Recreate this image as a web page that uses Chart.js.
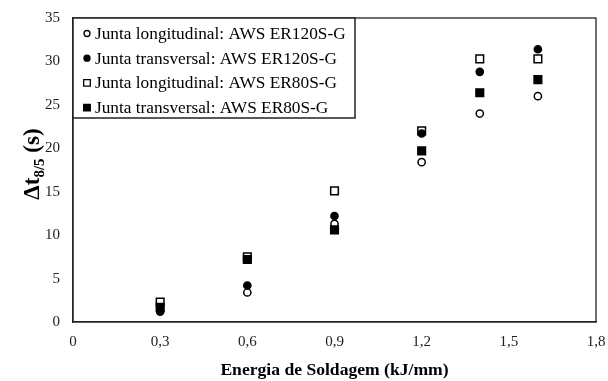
<!DOCTYPE html>
<html>
<head>
<meta charset="utf-8">
<script src="https://cdn.jsdelivr.net/npm/chart.js@4"></script>
<style>
  html, body { margin: 0; padding: 0; background: #fff; }
  #wrap { width: 608px; height: 381px; }
</style>
</head>
<body>
<div id="wrap"><canvas id="grafico"></canvas></div>
<script>
// energia de soldagem (kJ/mm)
const energia = [0.3, 0.6, 0.9, 1.2, 1.4, 1.6]

// delta t 8/5 (s) por junta / consumivel
const longER120 = [1.2, 3.4, 11.3, 18.4, 24.0, 26.0]
const transER120 = [1.3, 4.2, 12.2, 21.7, 28.8, 31.4]
const longER80 = [2.3, 7.5, 15.1, 22.0, 30.3, 30.3]
const transER80 = [1.7, 7.2, 10.6, 19.7, 26.4, 27.9]

const rotulos = [
  'Junta longitudinal: AWS ER120S-G',
  'Junta transversal: AWS ER120S-G',
  'Junta longitudinal: AWS ER80S-G',
  'Junta transversal: AWS ER80S-G'
]

const xTicks = [0, 0.3, 0.6, 0.9, 1.2, 1.5, 1.8]
const yTicks = [0, 5, 10, 15, 20, 25, 30, 35]

const serif = "'Liberation Serif', 'Times New Roman', serif"

function pares(vals){
  return energia.map((e, i) => ({x: e, y: vals[i]}))
}

// estilo de cada serie: [forma, preenchida]
const estilos = [['circle', false], ['circle', true], ['rect', false], ['rect', true]]
const series = [longER120, transER120, longER80, transER80]
const ordem = [3, 1, 2, 0]

const datasets = series.map((s, i) => ({
  label: rotulos[i],
  data: pares(s),
  pointStyle: estilos[i][0],
  pointRadius: estilos[i][0] == 'rect' ? 5.4 : 3.6,
  pointBorderWidth: 1.5,
  pointBorderColor: '#000',
  pointBackgroundColor: estilos[i][1] ? '#000' : '#fff',
  showLine: false,
  order: ordem[i]
}))

/* desenha um marcador (legenda) */
function marcador(ctx, forma, cheio, x, y, r){
  ctx.save()
  ctx.lineWidth = 1.3
  ctx.strokeStyle = '#000'
  ctx.fillStyle = cheio ? '#000' : '#fff'
  ctx.beginPath()
  if(forma == 'circle'){
    ctx.arc(x, y, r, 0, Math.PI * 2)
  } else {
    ctx.rect(x - r, y - r, r * 2, r * 2)
  }
  ctx.fill()
  ctx.stroke()
  ctx.restore()
}

/* moldura, titulo do eixo y e legenda */
const extras = {
  id: 'extras',
  afterDraw(chart){
    const ctx = chart.ctx
    const a = chart.chartArea

    // moldura da area do grafico
    ctx.save()
    ctx.strokeStyle = '#222'
    ctx.lineWidth = 1.3
    ctx.strokeRect(a.left, a.top, a.right - a.left, a.bottom - a.top)
    ctx.restore()

    // titulo do eixo y: Δt 8/5 (s)
    ctx.save()
    ctx.translate(31, 164)
    ctx.rotate(-Math.PI / 2)
    ctx.fillStyle = '#000'
    ctx.textBaseline = 'alphabetic'
    const fGrande = 'bold 23px ' + serif
    const fPeq = 'bold 15px ' + serif
    ctx.font = fGrande
    const w1 = ctx.measureText('Δt').width
    const w3 = ctx.measureText(' (s)').width
    ctx.font = fPeq
    const w2 = ctx.measureText('8/5').width
    let x0 = -(w1 + w2 + w3) / 2
    ctx.font = fGrande
    ctx.fillText('Δt', x0, 8)
    ctx.font = fPeq
    ctx.fillText('8/5', x0 + w1, 13)
    ctx.font = fGrande
    ctx.fillText(' (s)', x0 + w1 + w2, 8)
    ctx.restore()

    // legenda
    const lx = a.left, ly = a.top
    const lw = 282, lh = 100
    ctx.save()
    ctx.fillStyle = '#fff'
    ctx.fillRect(lx, ly, lw, lh)
    ctx.strokeStyle = '#222'
    ctx.lineWidth = 1.5
    ctx.strokeRect(lx, ly, lw, lh)
    ctx.font = '17.3px ' + serif
    ctx.fillStyle = '#000'
    ctx.textBaseline = 'middle'
    chart.data.datasets.forEach((d, i) => {
      const yy = ly + 15.5 + i * 24.7
      const r = estilos[i][0] == 'rect' ? 3.3 : 3
      marcador(ctx, estilos[i][0], estilos[i][1], lx + 14, yy, r)
      ctx.fillText(d.label, lx + 22, yy + 1)
    })
    ctx.restore()
  }
}

new Chart(document.getElementById('grafico'), {
  type: 'scatter',
  data: { datasets: datasets },
  options: {
    responsive: true,
    maintainAspectRatio: false,
    animation: false,
    layout: { padding: { top: 18, right: 12, left: 0, bottom: 0 } },
    plugins: {
      legend: { display: false },
      tooltip: { enabled: false }
    },
    scales: {
      x: {
        type: 'linear',
        min: 0,
        max: 1.8,
        afterBuildTicks(s){ s.ticks = xTicks.map(v => ({value: v})) },
        afterFit(s){
          s.height = 59
          s.paddingLeft = 0
          s.paddingRight = 0
        },
        grid: { display: false, drawTicks: true, tickLength: 5, tickColor: '#888' },
        border: { color: '#222', width: 1.3 },
        ticks: {
          color: '#222',
          font: { family: serif, size: 15 },
          padding: 6,
          callback: v => String(v).replace('.', ',')
        },
        title: {
          display: true,
          text: 'Energia de Soldagem (kJ/mm)',
          color: '#000',
          font: { family: serif, size: 17.6, weight: 'bold' },
          padding: { top: 3, bottom: 0 }
        }
      },
      y: {
        min: 0,
        max: 35,
        afterBuildTicks(s){ s.ticks = yTicks.map(v => ({value: v})) },
        afterFit(s){
          s.width = 73
          s.paddingTop = 0
          s.paddingBottom = 0
        },
        grid: { display: false, drawTicks: true, tickLength: 5, tickColor: '#888' },
        border: { color: '#222', width: 1.3 },
        ticks: {
          color: '#222',
          font: { family: serif, size: 15 },
          padding: 8
        }
      }
    }
  },
  plugins: [extras]
})
</script>
</body>
</html>
